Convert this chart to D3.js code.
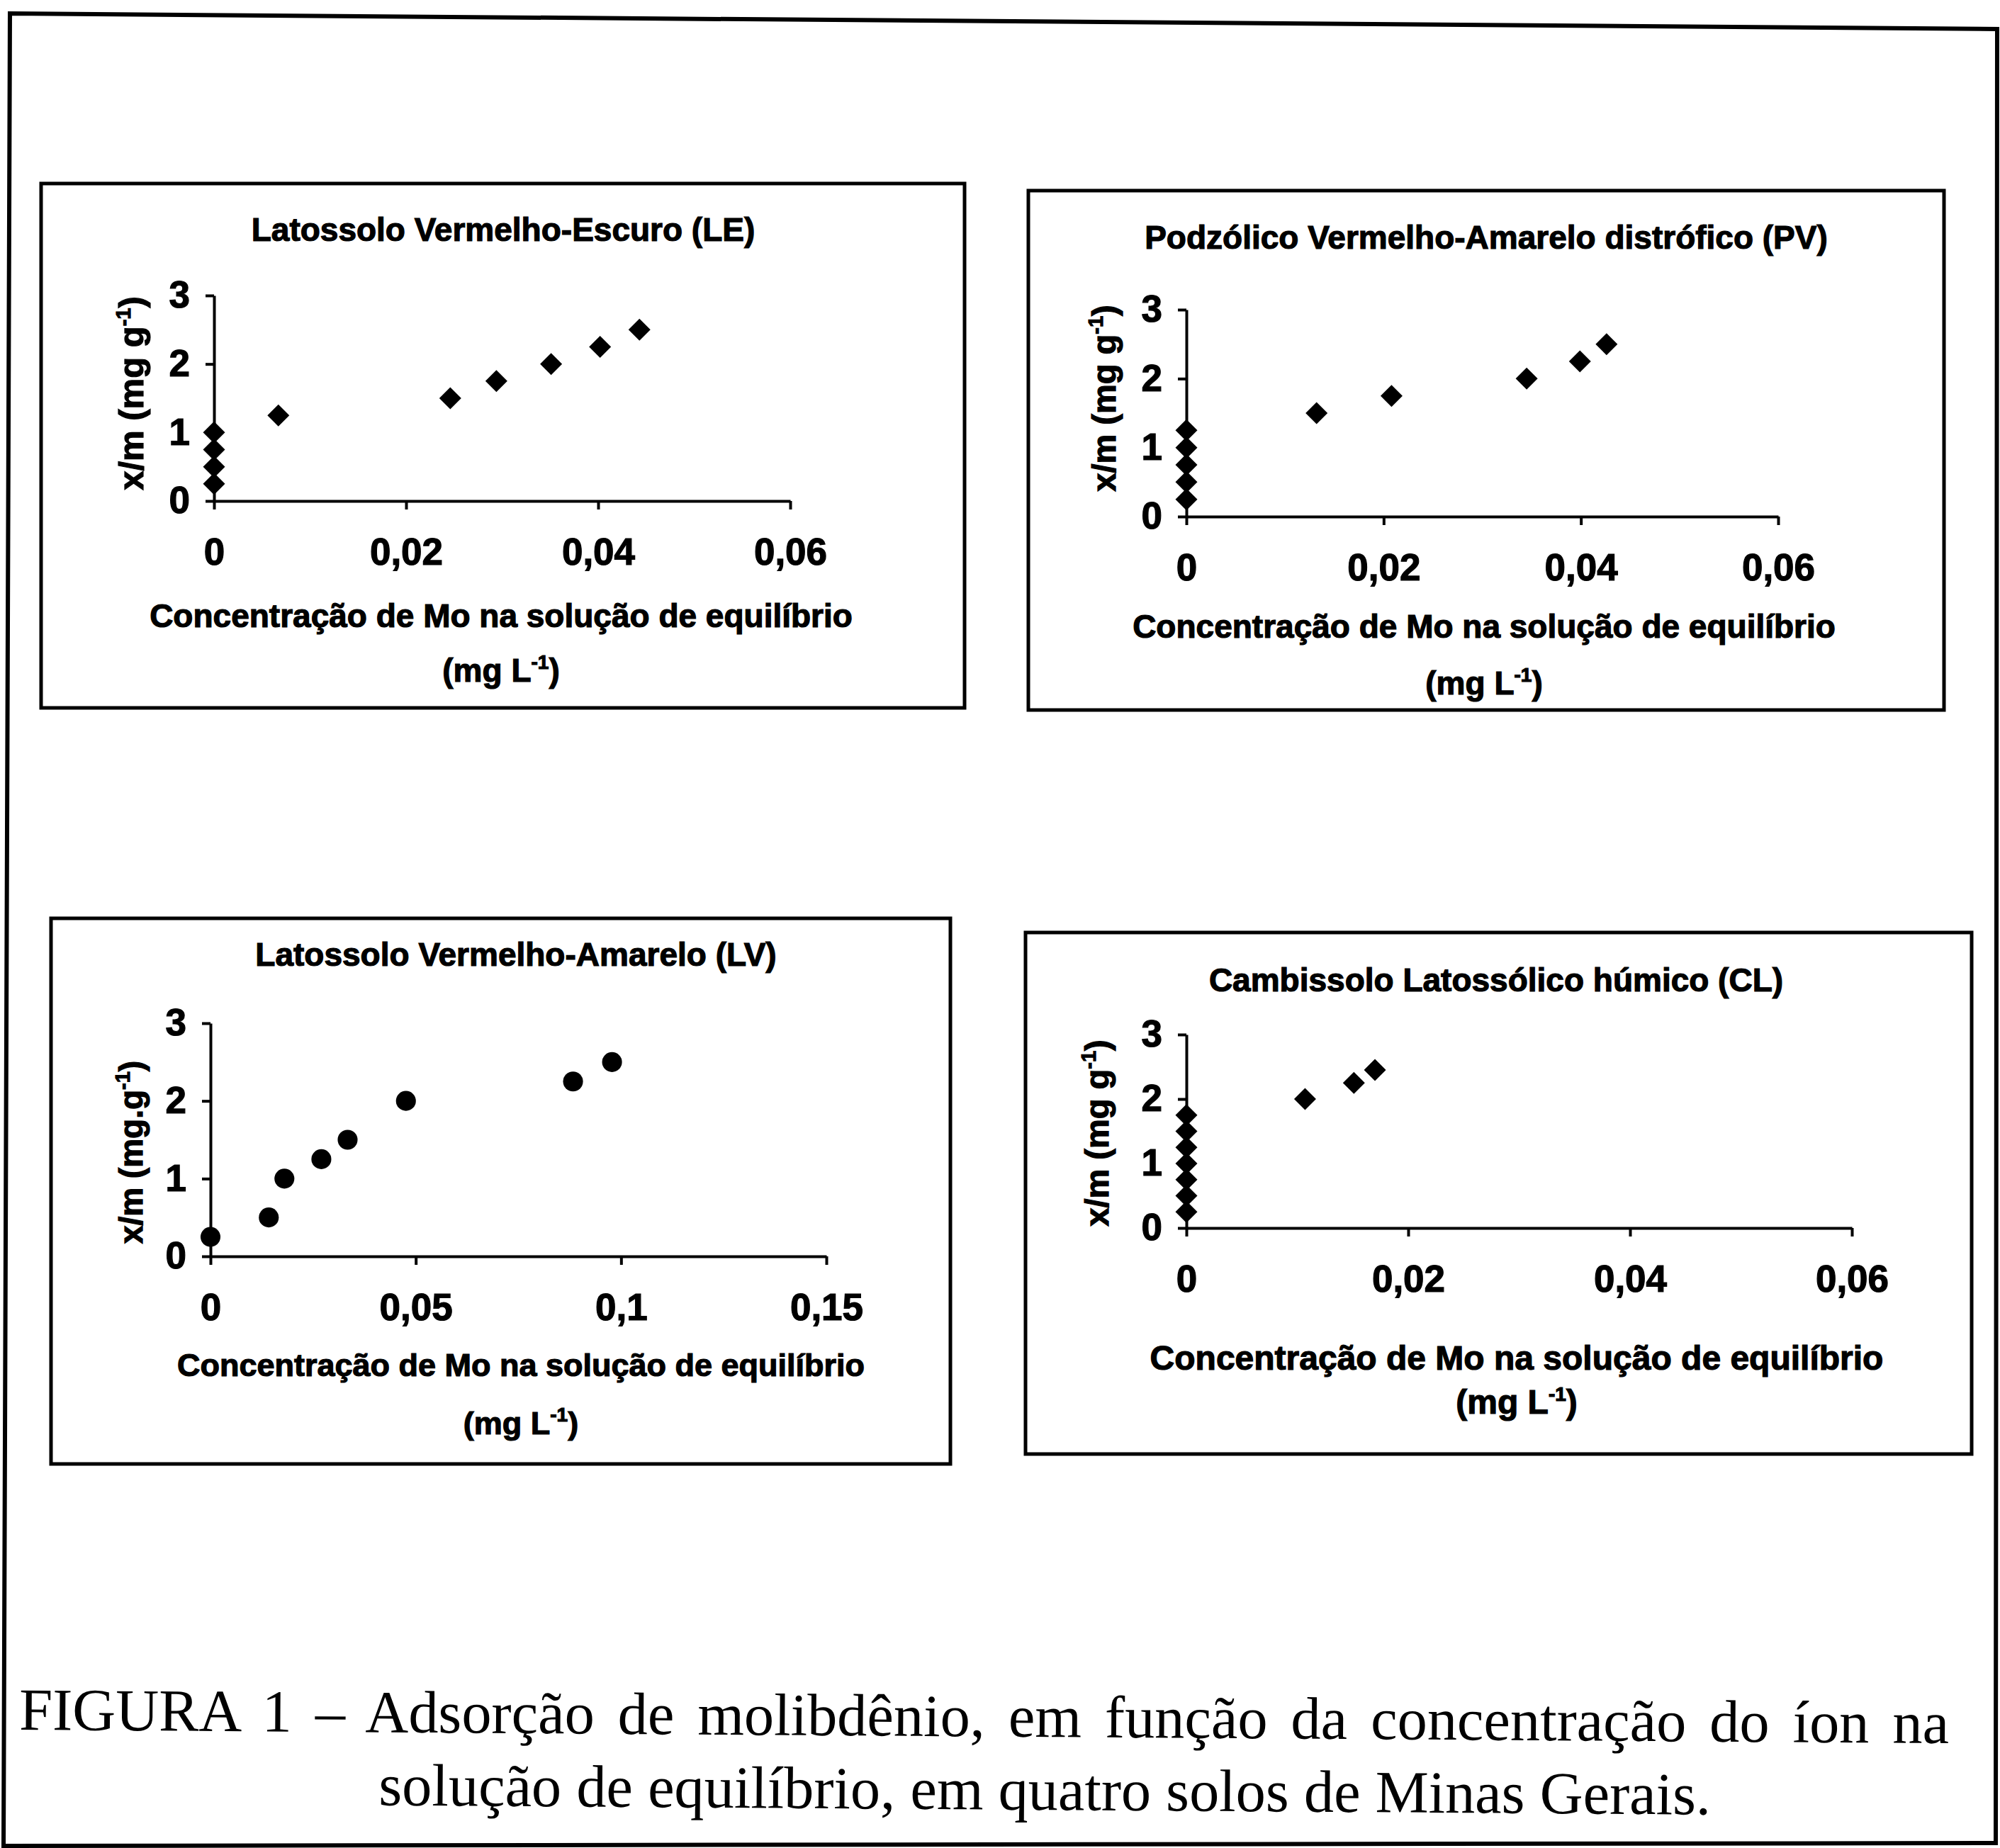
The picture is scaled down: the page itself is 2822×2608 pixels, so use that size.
<!DOCTYPE html>
<html lang="pt">
<head>
<meta charset="utf-8">
<title>Figura 1 - Adsorção de molibdênio</title>
<script src="https://cdn.jsdelivr.net/npm/d3@7"></script>
<style>
  body { margin: 0; background: #fff; }
  svg { display: block; }
  .panel text { font-family: "Liberation Sans", Arial, sans-serif; font-weight: bold; fill: #000;
                stroke: #000; stroke-width: 1.2px; }
  .caption { font-family: "Liberation Serif", "Times New Roman", serif; font-size: 84.4px; fill: #000; }
</style>
</head>
<body>
<script>
// x = concentração de Mo na solução de equilíbrio (mg L-1), y = x/m (mg g-1)
var leX = [0, 0, 0, 0, 0.0067, 0.0246, 0.0294, 0.0351, 0.0402, 0.0443];
var leY = [0.25, 0.5, 0.75, 1.0, 1.25, 1.5, 1.75, 2.0, 2.25, 2.5];

var pvX = [0, 0, 0, 0, 0, 0.0132, 0.0208, 0.0345, 0.0399, 0.0426];
var pvY = [0.25, 0.5, 0.75, 1.0, 1.25, 1.5, 1.75, 2.0, 2.25, 2.5];

var lvX = [0, 0.0142, 0.018, 0.027, 0.0334, 0.0476, 0.0883, 0.0978];
var lvY = [0.25, 0.5, 1.0, 1.25, 1.5, 2.0, 2.25, 2.5];

var clX = [0, 0, 0, 0, 0, 0, 0, 0.0107, 0.0151, 0.017];
var clY = [0.25, 0.5, 0.75, 1.0, 1.25, 1.5, 1.75, 2.0, 2.25, 2.45];

var titles = [
  "Latossolo Vermelho-Escuro (LE)",
  "Podzólico Vermelho-Amarelo distrófico (PV)",
  "Latossolo Vermelho-Amarelo (LV)",
  "Cambissolo Latossólico húmico (CL)"
];
var xTicksSmall = [0, 0.02, 0.04, 0.06];
var xTicksLarge = [0, 0.05, 0.1, 0.15];
var yTicks = [0, 1, 2, 3];
var xTitle = "Concentração de Mo na solução de equilíbrio";
var captionLines = [
  "FIGURA 1 – Adsorção de molibdênio, em função da concentração do íon na",
  "solução de equilíbrio, em quatro solos de Minas Gerais."
];

var W = 2822, H = 2608;
var svg = d3.select("body").append("svg")
  .attr("width", W)
  .attr("height", H);

// page frame (the scan is a bit skewed)
svg.append("path")
  .attr("d", "M14,19 L2818,41 L2816,2601 L5,2605 Z")
  .attr("fill", "none")
  .attr("stroke", "#000")
  .attr("stroke-width", 6);

var panels = [
  { title: titles[0], xs: leX, ys: leY, xTicks: xTicksSmall, shape: "diamond",
    box: [58, 259, 1361, 999], px: [302, 1115], py: [707, 417],
    tx: 710, titleY: 340, xt: [707, 885, 962], xtSize: 46,
    yl: [185, 555], ylSize: 49, ySep: " " },
  { title: titles[1], xs: pvX, ys: pvY, xTicks: xTicksSmall, shape: "diamond",
    box: [1451, 269, 2743, 1002], px: [1674, 2509], py: [729, 437],
    tx: 2097, titleY: 351, xt: [2094, 900, 980], xtSize: 46,
    yl: [1558, 562], ylSize: 47, ySep: " " },
  { title: titles[2], xs: lvX, ys: lvY, xTicks: xTicksLarge, shape: "circle",
    box: [72, 1296, 1341, 2066], px: [297, 1166], py: [1773, 1444],
    tx: 728, titleY: 1363, xt: [735, 1942, 2024], xtSize: 45,
    yl: [185, 1626], ylSize: 46, ySep: "." },
  { title: titles[3], xs: clX, ys: clY, xTicks: xTicksSmall, shape: "diamond",
    box: [1447, 1316, 2782, 2052], px: [1674, 2613], py: [1733, 1460],
    tx: 2111, titleY: 1399, xt: [2140, 1933, 1995], xtSize: 48,
    yl: [1548, 1599], ylSize: 47, ySep: " " }
];

var fmt = function (d) { return String(d).replace(".", ","); };

panels.forEach(function (p) {
  var g = svg.append("g").attr("class", "panel");

  g.append("rect")
    .attr("x", p.box[0]).attr("y", p.box[1])
    .attr("width", p.box[2] - p.box[0])
    .attr("height", p.box[3] - p.box[1])
    .attr("fill", "none")
    .attr("stroke", "#000")
    .attr("stroke-width", 5);

  g.append("text")
    .attr("x", p.tx)
    .attr("y", p.titleY)
    .attr("text-anchor", "middle")
    .style("font-size", "46px")
    .text(p.title);

  var x = d3.scaleLinear().domain([0, p.xTicks[p.xTicks.length - 1]]).range(p.px);
  var y = d3.scaleLinear().domain([0, 3]).range(p.py);

  var xAxis = g.append("g")
    .attr("transform", "translate(0," + p.py[0] + ")")
    .call(d3.axisBottom(x).tickValues(p.xTicks).tickFormat(fmt)
      .tickSize(12).tickSizeOuter(0).tickPadding(40));
  var yAxis = g.append("g")
    .attr("transform", "translate(" + p.px[0] + ",0)")
    .call(d3.axisLeft(y).tickValues(yTicks).tickFormat(fmt)
      .tickSize(12).tickSizeOuter(0).tickPadding(22));

  [xAxis, yAxis].forEach(function (a) {
    a.attr("font-family", null).attr("font-size", null);
    a.selectAll("path, line").attr("stroke", "#000").attr("stroke-width", 4);
    a.selectAll("text").style("font-size", "53px");
  });

  // points
  var pts = p.xs.map(function (v, i) { return [v, p.ys[i]]; });
  var sym = p.shape === "circle"
    ? d3.symbol().type(d3.symbolCircle).size(620)
    : d3.symbol().type(d3.symbolSquare).size(480);
  g.selectAll(".pt")
    .data(pts)
    .enter()
    .append("path")
    .attr("class", "pt")
    .attr("d", sym)
    .attr("transform", function (d) {
      return "translate(" + x(d[0]) + "," + y(d[1]) + ")" +
        (p.shape === "circle" ? "" : " rotate(45)");
    })
    .attr("fill", "#000");

  // x axis title, two lines
  g.append("text")
    .attr("x", p.xt[0]).attr("y", p.xt[1])
    .attr("text-anchor", "middle")
    .style("font-size", p.xtSize + "px")
    .text(xTitle);
  var unit = g.append("text")
    .attr("x", p.xt[0]).attr("y", p.xt[2])
    .attr("text-anchor", "middle")
    .style("font-size", p.xtSize + "px");
  unit.append("tspan").text("(mg L");
  unit.append("tspan").attr("dy", "-18").style("font-size", "28px").text("-1");
  unit.append("tspan").attr("dy", "18").text(")");

  // y axis title, rotated
  var yl = g.append("text")
    .attr("transform", "translate(" + p.yl[0] + "," + p.yl[1] + ") rotate(-90)")
    .attr("text-anchor", "middle")
    .attr("dy", "0.35em")
    .style("font-size", p.ylSize + "px");
  yl.append("tspan").text("x/m (mg" + p.ySep + "g");
  yl.append("tspan").attr("dy", "-18").style("font-size", "29px").text("-1");
  yl.append("tspan").attr("dy", "18").text(")");
});

// caption: first line justified, second line with hanging indent;
// follows the slight tilt of the scanned page
var cap = svg.append("g").attr("transform", "rotate(0.4, 27, 2440)");
var cap1 = cap.append("text")
  .attr("class", "caption")
  .attr("x", 27).attr("y", 2441)
  .text(captionLines[0]);
var natural = cap1.node().getComputedTextLength();
var spaces = captionLines[0].split(" ").length - 1;
cap1.attr("word-spacing", ((2750 - 27) - natural) / spaces);

cap.append("text")
  .attr("class", "caption")
  .attr("x", 535).attr("y", 2544)
  .text(captionLines[1]);
</script>
</body>
</html>
